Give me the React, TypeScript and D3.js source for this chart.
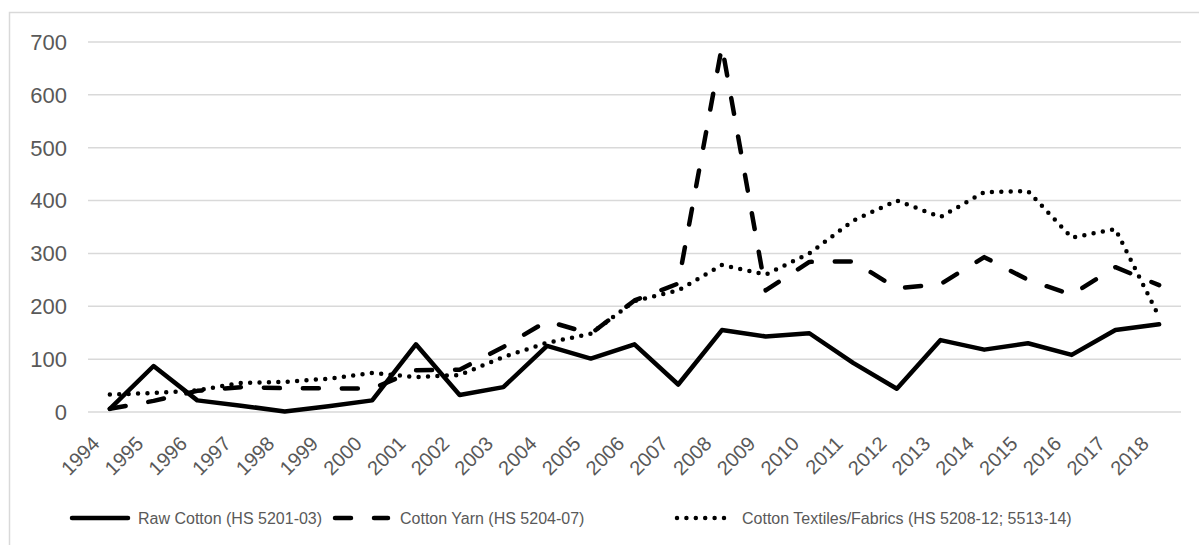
import * as d3 from "d3";

const YEARS = [
  "1994", "1995", "1996", "1997", "1998", "1999", "2000", "2001", "2002",
  "2003", "2004", "2005", "2006", "2007", "2008", "2009", "2010", "2011",
  "2012", "2013", "2014", "2015", "2016", "2017", "2018",
];
const RAW_COTTON = [6, 87, 22, 12, 1, 11, 22, 128, 32, 47, 125, 101, 128, 52, 155, 143, 149, 93, 44, 136, 118, 130, 108, 155, 166];
const COTTON_YARN = [6, 21, 40, 47, 45, 45, 44, 79, 80, 123, 172, 148, 211, 243, 692, 230, 284, 285, 234, 242, 293, 250, 222, 274, 240];
const TEXTILES = [33, 36, 41, 55, 57, 63, 74, 66, 70, 104, 131, 148, 210, 230, 278, 260, 300, 362, 400, 369, 416, 418, 330, 346, 180];
const Y_TICKS = [0, 100, 200, 300, 400, 500, 600, 700];

const SERIES = [
  { name: "Raw Cotton (HS 5201-03)", values: RAW_COTTON, dash: "none" },
  { name: "Cotton Yarn (HS 5204-07)", values: COTTON_YARN, dash: "16 23" },
  { name: "Cotton Textiles/Fabrics (HS 5208-12; 5513-14)", values: TEXTILES, dash: "0 9.4" },
];

// plot area in page pixels
const W = 1199;
const H = 545;
const plot = { left: 88, right: 1181, top: 42, bottom: 412 };
const FONT = "'Liberation Sans', Arial, sans-serif";
const TEXT = "#595959";
const GRID = "#d9d9d9";

// legend layout: [line start, line end, text x]
const LEGEND_POS = [
  [70, 130, 138],
  [333, 390, 400],
  [675, 733, 742],
];

export default function App() {
  const x = d3.scalePoint<string>().domain(YEARS).range([plot.left, plot.right]).padding(0.5);
  const y = d3.scaleLinear().domain([0, 700]).range([plot.bottom, plot.top]);
  const line = d3
    .line<number>()
    .x((_, i) => x(YEARS[i]) ?? 0)
    .y((d) => y(d));

  return (
    <svg
      width={W}
      height={H}
      style={{ position: "absolute", left: 0, top: 0, background: "#fff" }}
      fontFamily={FONT}
    >
      <rect x={9.5} y={12.5} width={1210} height={560} fill="#fff" stroke={GRID} strokeWidth={1.5} />

      {/* gridlines + y labels */}
      {Y_TICKS.map((t) => (
        <g key={t}>
          <line x1={plot.left} x2={plot.right} y1={y(t)} y2={y(t)} stroke={GRID} strokeWidth={1.5} />
          <text x={67} y={y(t)} dy="0.36em" textAnchor="end" fontSize={22} fill={TEXT}>
            {t}
          </text>
        </g>
      ))}

      {/* x labels, rotated */}
      {YEARS.map((yr) => (
        <text
          key={yr}
          transform={`translate(${(x(yr) ?? 0) - 9},${plot.bottom + 33}) rotate(-45)`}
          textAnchor="end"
          fontSize={20}
          fill={TEXT}
        >
          {yr}
        </text>
      ))}

      {/* series */}
      {SERIES.map((s) => (
        <path
          key={s.name}
          d={line(s.values) ?? ""}
          fill="none"
          stroke="#000"
          strokeWidth={4.5}
          strokeDasharray={s.dash}
          strokeLinecap="round"
          strokeLinejoin="round"
        />
      ))}

      {/* legend */}
      {SERIES.map((s, i) => {
        const [x1, x2, tx] = LEGEND_POS[i];
        return (
          <g key={s.name}>
            <line
              x1={x1 + 2}
              x2={x2 - 2}
              y1={518}
              y2={518}
              stroke="#000"
              strokeWidth={4.5}
              strokeDasharray={s.dash}
              strokeLinecap="round"
            />
            <text x={tx} y={518} dy="0.36em" fontSize={16} fill={TEXT}>
              {s.name}
            </text>
          </g>
        );
      })}
    </svg>
  );
}
